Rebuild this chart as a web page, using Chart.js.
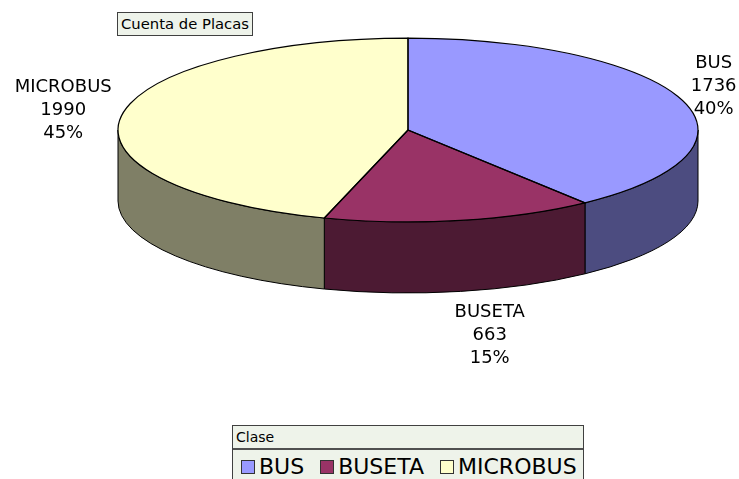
<!DOCTYPE html>
<html>
<head>
<meta charset="utf-8">
<script src="https://cdn.jsdelivr.net/npm/chart.js@4/dist/chart.umd.min.js"></script>
<style>
  body { margin: 0; background: #fff; font-family: "DejaVu Sans", Verdana, sans-serif; }
  #wrap { position: relative; width: 739px; height: 479px; overflow: hidden; }
  #title {
    position: absolute; left: 117px; top: 12px; height: 22px; padding: 0 3px;
    background: #eef3ea; border: 1px solid #404040;
    font-size: 14.8px; line-height: 22px; color: #000;
  }
  #legend {
    position: absolute; left: 232px; top: 425px; width: 350px; height: 70px;
    background: #eef3ea; border: 1px solid #404040;
  }
  #legend .head { font-size: 14px; height: 22px; line-height: 22px; padding-left: 3px; border-bottom: 2px solid #505050; }
  #legend .items { display: flex; padding-left: 8px; font-size: 22px; line-height: 33px; }
  #legend .item { display: flex; align-items: center; margin-right: 16px; }
  #legend .sw { width: 12px; height: 12px; border: 1px solid #333; margin-right: 4px; }
</style>
</head>
<body>
<div id="wrap">
  <canvas id="pie" width="739" height="479"></canvas>
  <div id="title">Cuenta de Placas</div>
  <div id="legend"><div class="head">Clase</div><div class="items" id="items"></div></div>
</div>
<script>
const categories = ['BUS', 'BUSETA', 'MICROBUS'];
const counts = [1736, 663, 1990];
const topColors = ['#9999ff', '#993366', '#ffffcc'];
const sideColors = ['#4c4c80', '#4c1a33', '#7f7f66'];

const tilt = 0.317;   // vertical squash of the pie
const depth = 71;     // thickness of the pie in px
const total = counts.reduce((a, b) => a + b, 0);

// draws side walls, squashes the top face, then outlines and labels
const pie3d = {
  id: 'pie3d',
  beforeDatasetsDraw(chart) {
    const ctx = chart.ctx;
    const arcs = chart.getDatasetMeta(0).data;
    ctx.save();
    ctx.lineWidth = 1;
    ctx.strokeStyle = '#000';
    arcs.forEach((arc, i) => {
      const p = arc.getProps(['x', 'y', 'startAngle', 'endAngle', 'outerRadius'], true);
      const a = Math.max(p.startAngle, 0), b = Math.min(p.endAngle, Math.PI);
      if (b <= a) return;
      const r = p.outerRadius;
      ctx.beginPath();
      ctx.ellipse(p.x, p.y, r, r * tilt, 0, a, b);
      ctx.ellipse(p.x, p.y + depth, r, r * tilt, 0, b, a, true);
      ctx.closePath();
      ctx.fillStyle = sideColors[i];
      ctx.fill();
      ctx.stroke();
    });
    ctx.restore();
    const cy = arcs[0].y;
    ctx.save();
    ctx.translate(0, cy);
    ctx.scale(1, tilt);
    ctx.translate(0, -cy);
  },
  afterDatasetsDraw(chart) {
    const ctx = chart.ctx;
    ctx.restore();
    const arcs = chart.getDatasetMeta(0).data;
    ctx.save();
    ctx.lineWidth = 1.2;
    ctx.strokeStyle = '#000';
    arcs.forEach(arc => {
      const p = arc.getProps(['x', 'y', 'startAngle', 'endAngle', 'outerRadius'], true);
      const r = p.outerRadius;
      ctx.beginPath();
      ctx.moveTo(p.x, p.y);
      ctx.lineTo(p.x + r * Math.cos(p.startAngle), p.y + r * tilt * Math.sin(p.startAngle));
      ctx.ellipse(p.x, p.y, r, r * tilt, 0, p.startAngle, p.endAngle);
      ctx.closePath();
      ctx.stroke();
    });
    // data labels
    ctx.font = '18px "DejaVu Sans", Verdana, sans-serif';
    ctx.fillStyle = '#000';
    ctx.textAlign = 'center';
    ctx.textBaseline = 'middle';
    const lh = 23, gap = 10;
    arcs.forEach((arc, i) => {
      const p = arc.getProps(['x', 'y', 'startAngle', 'endAngle', 'outerRadius'], true);
      const m = (p.startAngle + p.endAngle) / 2;
      const c = Math.cos(m), s = Math.sin(m);
      const lines = [categories[i], String(counts[i]), Math.round(counts[i] / total * 100) + '%'];
      const w = Math.max(...lines.map(t => ctx.measureText(t).width));
      const h = lines.length * lh;
      const px = p.x + p.outerRadius * c;
      const py = p.y + p.outerRadius * tilt * s + (s > 0 ? depth : 0);
      // front labels get pushed a bit further sideways, like the original
      const bx = px + c * (w / 2 + gap) + (s > 0.9 ? w / 2 - 14 : 0);
      const by = py + s * (h / 2 + gap);
      lines.forEach((t, k) => ctx.fillText(t, bx, by - h / 2 + lh / 2 + k * lh));
    });
    ctx.restore();
  }
};

const chart = new Chart(document.getElementById('pie'), {
  type: 'pie',
  data: {
    labels: categories,
    datasets: [{
      data: counts,
      backgroundColor: topColors,
      borderWidth: 0,
      radius: 290,
      clip: false
    }]
  },
  options: {
    responsive: false,
    animation: false,
    events: [],
    layout: { padding: { left: 118, right: 41, top: 12, bottom: 231 } },
    plugins: {
      legend: { display: false },
      tooltip: { enabled: false }
    }
  },
  plugins: [pie3d]
});

// legend built from the chart data
const items = document.getElementById('items');
chart.data.labels.forEach((lab, i) => {
  const d = document.createElement('div');
  d.className = 'item';
  d.innerHTML = '<span class="sw" style="background:' + topColors[i] + '"></span>' + lab;
  items.appendChild(d);
});
</script>
</body>
</html>
